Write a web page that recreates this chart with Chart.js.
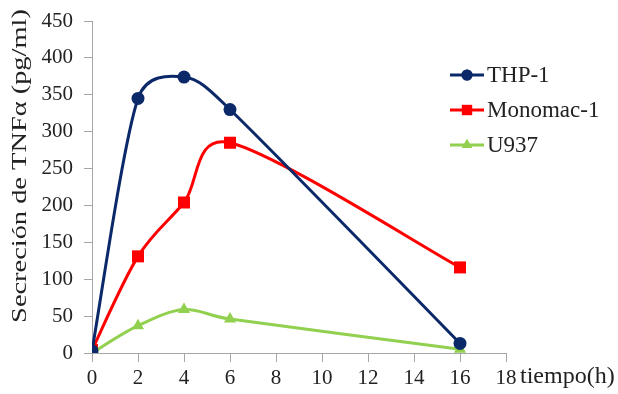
<!DOCTYPE html>
<html><head><meta charset="utf-8">
<script src="https://cdn.jsdelivr.net/npm/chart.js@4/dist/chart.umd.min.js"></script>
<style>html,body{margin:0;padding:0;background:#fff}#wrap{width:618px;height:394px}</style>
</head><body><div id="wrap"><canvas id="c" width="618" height="394"></canvas></div>
<script>
const times = [0, 2, 4, 6, 16];
const seriesNames = ["THP-1", "Monomac-1", "U937"];
const thp1 = [3, 345, 374, 330, 13];
const monomac1 = [4, 131, 204, 285, 116];
const u937 = [0, 37, 59, 46, 5];
const xTicks = [0, 2, 4, 6, 8, 10, 12, 14, 16, 18];
const yTicks = [0, 50, 100, 150, 200, 250, 300, 350, 400, 450];
const yTitle = "Secreción de TNFα (pg/ml)";
const xTitle = "tiempo(h)";

const FONT = "'Liberation Serif', 'Times New Roman', serif";
Chart.defaults.font.family = FONT;
const colors = ["#0B2869", "#FF0000", "#92D050"];
const styles = ["circle", "rect", "triangle"];
const radii = [6.5, 8.5, 7];
const vals = [thp1, monomac1, u937];

const datasets = seriesNames.map((n, i) => ({
  label: n,
  data: times.map((t, j) => ({x: t, y: vals[i][j]})),
  borderColor: colors[i],
  backgroundColor: colors[i],
  pointBackgroundColor: colors[i],
  pointBorderColor: colors[i],
  pointStyle: styles[i],
  pointRadius: radii[i],
  pointBorderWidth: 0,
  borderWidth: 3,
  tension: 0.35,
  fill: false
}));

// Excel-like smoothing of the library's own point positions (control points capped at half a segment)
const smooth = {
  id: 'smooth',
  beforeDatasetDraw(chart, args) {
    const line = args.meta.dataset;
    if (!line) return;
    line.updateControlPoints(chart.chartArea, 'x');
    const pts = line.points;
    const n = pts.length;
    const dist = (a, b) => Math.hypot(b.x - a.x, b.y - a.y);
    for (let i = 0; i < n - 1; i++) {
      const P0 = pts[Math.max(i - 1, 0)], P1 = pts[i], P2 = pts[i + 1], P3 = pts[Math.min(i + 2, n - 1)];
      const d12 = dist(P1, P2), d02 = dist(P0, P2), d13 = dist(P1, P3);
      let f1 = 1 / 6, f2 = 1 / 6;
      if (d02 / 6 > d12 / 2) f1 = d12 / (2 * d02);
      if (d13 / 6 > d12 / 2) f2 = d12 / (2 * d13);
      P1._o2 = [P1.x + f1 * (P2.x - P0.x), P1.y + f1 * (P2.y - P0.y)];
      P2._o1 = [P2.x - f2 * (P3.x - P1.x), P2.y - f2 * (P3.y - P1.y)];
    }
    for (let i = 0; i < n; i++) {
      const p = pts[i];
      const a = p._o1 || [p.x, p.y], b = p._o2 || [p.x, p.y];
      p.cp1x = a[0]; p.cp1y = a[1];
      p.cp2x = b[0]; p.cp2y = b[1];
    }
  }
};

const extras = {
  id: 'extras',
  afterDraw(chart) {
    const ctx = chart.ctx;
    ctx.save();
    ctx.fillStyle = "#222";
    ctx.textBaseline = "middle";
    // x title
    ctx.font = "24px " + FONT;
    ctx.textAlign = "left";
    ctx.fillText(xTitle, 520, 377);
    // y title
    ctx.save();
    ctx.translate(21, 166);
    ctx.rotate(-Math.PI / 2);
    ctx.scale(1.42, 1);
    ctx.textAlign = "center";
    ctx.font = "20px " + FONT;
    ctx.fillText(yTitle, 0, 0);
    ctx.restore();
    // legend
    const ly = [75, 110, 145];
    chart.data.datasets.forEach((ds, i) => {
      const y = ly[i];
      ctx.strokeStyle = ds.borderColor;
      ctx.lineWidth = 3;
      ctx.beginPath(); ctx.moveTo(450, y); ctx.lineTo(484, y); ctx.stroke();
      ctx.fillStyle = ds.borderColor;
      Chart.helpers.drawPoint(ctx, {pointStyle: ds.pointStyle, radius: ds.pointRadius * 0.85, borderWidth: 0}, 467, y);
      ctx.fill();
      ctx.fillStyle = "#222";
      ctx.textAlign = "left";
      ctx.font = "23px " + FONT;
      ctx.fillText(ds.label, 487, y + 1);
    });
    ctx.restore();
  }
};

new Chart(document.getElementById('c'), {
  type: 'line',
  data: {datasets},
  options: {
    responsive: false,
    animation: false,
    layout: {padding: {top: 21, right: 112, left: 0, bottom: 0}},
    plugins: {legend: {display: false}, tooltip: {enabled: false}},
    scales: {
      x: {
        type: 'linear', min: 0, max: 18,
        afterBuildTicks(s) { s.ticks = xTicks.map(v => ({value: v})); },
        afterFit(s) { s.height = 41; s.paddingLeft = 0; s.paddingRight = 0; },
        grid: {drawOnChartArea: false, drawTicks: true, tickLength: 9, color: "#A6A6A6"},
        border: {color: "#A6A6A6", width: 1},
        ticks: {color: "#222", font: {family: FONT, size: 21}, padding: 4, maxRotation: 0}
      },
      y: {
        type: 'linear', min: 0, max: 450,
        afterBuildTicks(s) { s.ticks = yTicks.map(v => ({value: v})); },
        afterFit(s) { s.width = 92; s.paddingTop = 0; s.paddingBottom = 0; },
        grid: {drawOnChartArea: false, drawTicks: true, tickLength: 8, color: "#A6A6A6"},
        border: {color: "#A6A6A6", width: 1},
        ticks: {color: "#222", font: {family: FONT, size: 21}, padding: 11}
      }
    }
  },
  plugins: [smooth, extras]
});
</script></body></html>
